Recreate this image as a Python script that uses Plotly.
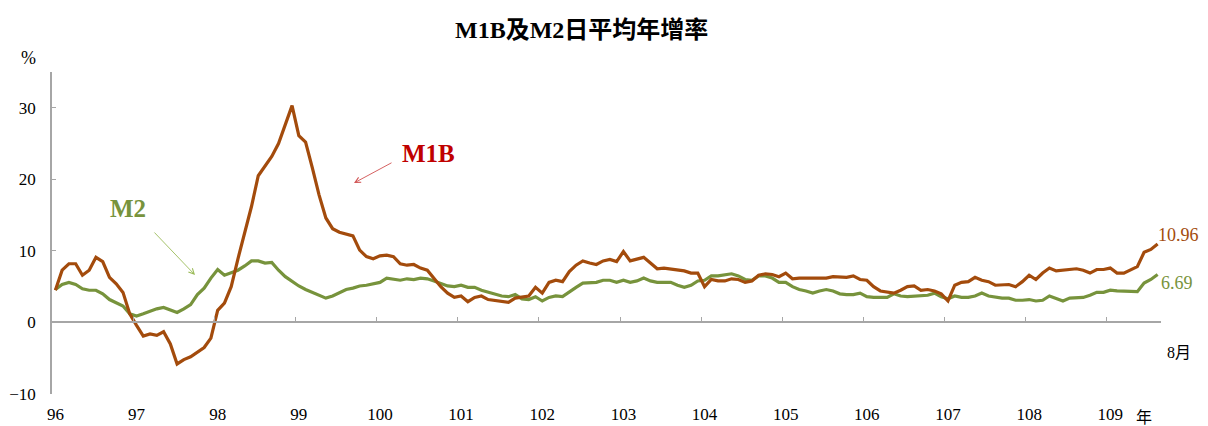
import plotly.graph_objects as go

# ---- data (monthly, 96/01 .. 109/08) ----
year_labels = [str(y) for y in range(96, 110)]
m1b = [
    4.5, 7.3, 8.2, 8.2, 6.6, 7.3, 9.1, 8.5, 6.3, 5.4, 4.2, 1.2,
    -0.4, -1.9, -1.6, -1.8, -1.3, -3.0, -5.8, -5.2, -4.8, -4.1, -3.5, -2.2,
    1.7, 2.7, 5.0, 8.9, 12.5, 16.2, 20.5, 21.9, 23.2, 25.0, 27.7, 30.3,
    26.1, 25.2, 21.6, 17.8, 14.6, 13.1, 12.6, 12.3, 12.1, 10.1, 9.2, 8.9,
    9.3, 9.4, 9.2, 8.2, 8.0, 8.1, 7.6, 7.3, 6.2, 5.0, 4.1, 3.5,
    3.7, 2.9, 3.5, 3.7, 3.2, 3.1, 2.9, 2.8, 3.4, 3.6, 3.7, 4.9,
    4.1, 5.6, 5.9, 5.7, 7.1, 8.0, 8.6, 8.3, 8.1, 8.6, 8.8, 8.5,
    9.9, 8.6, 8.8, 9.1, 8.3, 7.5, 7.6, 7.5, 7.3, 7.2, 6.9, 6.9,
    5.0, 6.0, 5.8, 5.8, 6.1, 6.0, 5.6, 5.8, 6.6, 6.8, 6.7, 6.4,
    6.9, 6.1, 6.2, 6.2, 6.2, 6.2, 6.2, 6.4, 6.3, 6.3, 6.5, 6.0,
    5.9, 5.0, 4.4, 4.2, 4.1, 4.5, 5.0, 5.1, 4.5, 4.6, 4.4, 4.0,
    3.0, 5.2, 5.6, 5.7, 6.3, 5.9, 5.7, 5.2, 5.2, 5.3, 5.0, 5.7,
    6.6, 6.0, 6.9, 7.6, 7.2, 7.3, 7.3, 7.5, 7.3, 6.9, 7.4, 7.4,
    7.6, 6.9, 6.9, 7.3, 7.8, 9.8, 10.2, 10.96,
]
m2 = [
    4.6, 5.3, 5.6, 5.3, 4.7, 4.5, 4.5, 4.0, 3.2, 2.7, 2.3, 1.2,
    0.9, 1.2, 1.6, 1.9, 2.1, 1.7, 1.4, 1.9, 2.5, 3.9, 4.8, 6.2,
    7.4, 6.6, 6.9, 7.3, 7.9, 8.6, 8.6, 8.3, 8.4, 7.3, 6.4, 5.7,
    5.1, 4.6, 4.2, 3.8, 3.4, 3.7, 4.1, 4.6, 4.8, 5.1, 5.2, 5.4,
    5.6, 6.2, 6.0, 5.9, 6.1, 6.0, 6.2, 6.1, 5.8, 5.5, 5.1, 5.0,
    5.2, 4.9, 4.9, 4.5, 4.2, 4.0, 3.7, 3.6, 3.9, 3.3, 3.2, 3.6,
    3.0, 3.5, 3.7, 3.6, 4.3, 4.9, 5.5, 5.5, 5.6, 5.9, 5.9, 5.6,
    5.9, 5.6, 5.8, 6.2, 5.8, 5.6, 5.6, 5.6, 5.2, 4.9, 5.2, 5.8,
    5.9, 6.5, 6.5, 6.6, 6.8, 6.5, 6.0, 5.9, 6.5, 6.5, 6.2, 5.6,
    5.6, 5.0, 4.6, 4.4, 4.1, 4.4, 4.6, 4.4, 4.0, 3.9, 3.9, 4.1,
    3.6, 3.5, 3.5, 3.5, 4.0, 3.7, 3.6, 3.7, 3.7, 3.8, 4.1, 3.6,
    3.3, 3.7, 3.5, 3.5, 3.7, 4.1, 3.7, 3.5, 3.4, 3.4, 3.1, 3.1,
    3.2, 3.0, 3.1, 3.7, 3.4, 3.0, 3.4, 3.4, 3.5, 3.8, 4.2, 4.2,
    4.5, 4.4, 4.4, 4.3, 4.3, 5.5, 6.0, 6.69,
]
y_ticks = [-10, 0, 10, 20, 30]

n = len(m1b)
months = list(range(n))
year_pos = [12 * k for k in range(len(year_labels))]
year_bounds = [12 * k - 0.5 for k in range(1, len(year_labels))]

C_M1B = "#A34B0C"
C_M2 = "#77933C"
AXC = "#A6A6A6"
SERIF = "Liberation Serif, Times New Roman, Noto Sans CJK TC, serif"

fig = go.Figure()
fig.add_trace(go.Scatter(x=months, y=m2, mode="lines", name="M2",
                         line=dict(color=C_M2, width=3.2), hoverinfo="y"))
fig.add_trace(go.Scatter(x=months, y=m1b, mode="lines", name="M1B",
                         line=dict(color=C_M1B, width=3.2), hoverinfo="y"))
# empty trace to activate the zero-line axis
fig.add_trace(go.Scatter(x=[], y=[], xaxis="x2", yaxis="y", showlegend=False))

ylo, yhi = -10, 35

# page has an 8px body margin; figure is sized to fill the rest
fig.update_layout(
    width=1200, height=418,
    margin=dict(l=44, r=47, t=64, b=32, autoexpand=False),
    paper_bgcolor="white", plot_bgcolor="white",
    showlegend=False,
    font=dict(family=SERIF, size=17, color="black"),
    xaxis=dict(range=[-0.5, n - 0.5], tickmode="array", tickvals=year_pos,
               ticktext=year_labels, showline=False, ticks="", showgrid=False,
               zeroline=False, ticklabelstandoff=8, automargin=False,
               tickfont=dict(family=SERIF, size=17)),
    xaxis2=dict(range=[-0.5, n - 0.5], overlaying="x", anchor="free",
                position=(0 - ylo) / (yhi - ylo), side="bottom",
                tickmode="array", tickvals=year_bounds, ticks="inside",
                ticklen=5, tickcolor=AXC, tickwidth=1.2, automargin=False,
                showline=True, linecolor=AXC, linewidth=1.5,
                showticklabels=False, showgrid=False, zeroline=False),
    yaxis=dict(range=[ylo, yhi], tickmode="array", tickvals=y_ticks,
               showline=True, linecolor=AXC, linewidth=1.5,
               ticks="inside", ticklen=4, tickcolor=AXC, automargin=False,
               showgrid=False, zeroline=False, ticklabelstandoff=11,
               tickfont=dict(family=SERIF, size=17)),
)

def px_x(p):
    return (p - 52) / 1109.0

def px_y(p):
    return (394 - p) / 322.0

def label(text, px, py, size, color="black", bold=False):
    t = f"<b>{text}</b>" if bold else text
    return dict(text=t, xref="paper", yref="paper", x=px_x(px), y=px_y(py),
                xanchor="center", yanchor="middle", showarrow=False,
                font=dict(family=SERIF, size=size, color=color))

ann = [
    label("M1B及M2日平均年增率", 581, 30, 24, bold=True),
    label("%", 28, 58, 18),
    label("年", 1144, 417, 16),
    label("8月", 1179, 352, 16),
    label(f"{m1b[-1]:.2f}", 1178, 235, 18, C_M1B),
    label(f"{m2[-1]:.2f}", 1177, 283, 18, C_M2),
    label("M2", 128, 208, 25, C_M2, bold=True),
    label("M1B", 428, 153, 25, "#C00000", bold=True),
    dict(text="", xref="paper", yref="paper",
         x=px_x(195), y=px_y(275), ax=-42, ay=-44,
         showarrow=True, arrowhead=5, arrowsize=1.2, arrowwidth=0.9,
         arrowcolor="#9BBB59"),
    dict(text="", xref="paper", yref="paper",
         x=px_x(354), y=px_y(183), ax=39, ay=-21,
         showarrow=True, arrowhead=5, arrowsize=1.2, arrowwidth=0.9,
         arrowcolor="#D05050"),
]
fig.update_layout(annotations=ann)

fig.write_html("out.html")
